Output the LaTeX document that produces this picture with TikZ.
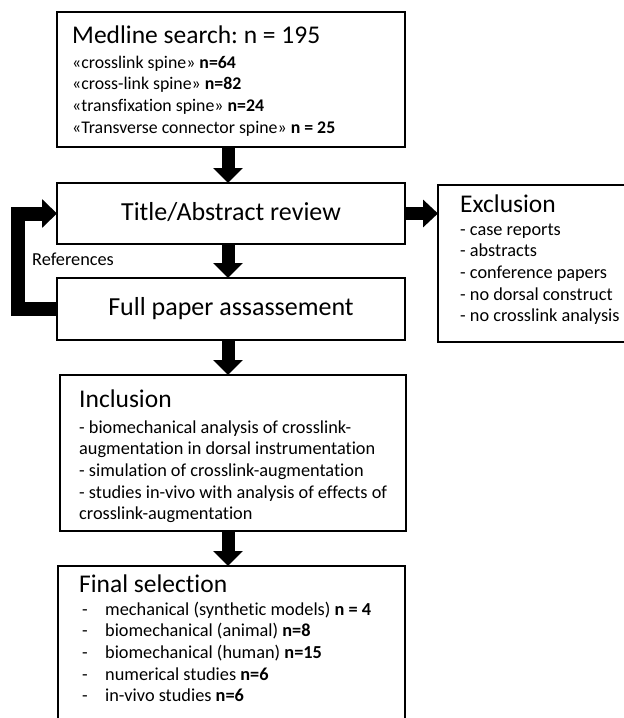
\documentclass[tikz,border=0pt]{standalone}
\usepackage{fontspec}
\setmainfont{Carlito}[Ligatures=NoCommon]
\frenchspacing
\usetikzlibrary{arrows.meta}
\tikzset{
  box/.style={draw, line width=1.3pt, inner sep=0pt, outer sep=0pt, anchor=north west},
  head/.style={anchor=base west, inner sep=0pt, font=\fontsize{25.5}{30}\selectfont},
  item/.style={anchor=base west, inner sep=0pt, font=\fontsize{18.3}{22}\selectfont},
  stage/.style={anchor=base, inner sep=0pt, font=\fontsize{26}{30}\selectfont},
  flow/.style={line width=13pt, -{Triangle[width=29pt,length=15pt]}},
}

\begin{document}
\begin{tikzpicture}[x=1pt, y=-1pt]
	\useasboundingbox (0,0) rectangle (624,718);
	% boxes
	\node[box, minimum width=348pt, minimum height=135pt] (medline) at (57,12) {};
	\node[box, minimum width=348pt, minimum height=61pt] (title) at (57,183) {};
	\node[box, minimum width=348pt, minimum height=62pt] (full) at (57,278) {};
	\node[box, minimum width=200pt, minimum height=157pt] (excl) at (438,185) {};
	\node[box, minimum width=346pt, minimum height=156pt] (incl) at (60,375) {};
	\node[box, minimum width=347pt, minimum height=170pt] (final) at (58,566) {};
	\coordinate (ax) at (228,0);

	% search
	\node[head] (medhead) at (72,43) {Medline search: n = 195};
	\foreach \t [count=\i] in {«crosslink spine» \textbf{n=64}, «cross-link spine» \textbf{n=82},
		«transfixation spine» \textbf{n=24}, «Transverse connector spine» \textbf{n = 25}}
		\node[item, font=\fontsize{17.8}{22}\selectfont] (med\i) at (72,{46.3+21.7*\i}) {\t};

	% screening
	\node[stage] (titletxt) at (231,220) {Title/Abstract review};
	\node[stage] (fulltxt) at (231,315) {Full paper assassement};
	\node[item] (refs) at (32,265) {References};

	% exclusion
	\node[head] (exhead) at (460,212) {Exclusion};
	\foreach \t [count=\i] in {- case reports, - abstracts, - conference papers,
		- no dorsal construct, - no crosslink analysis}
		\node[item] (ex\i) at (460,{213.3+21.7*\i}) {\t};

	% inclusion
	\node[head] (inhead) at (79,407) {Inclusion};
	\foreach \t [count=\i] in {- biomechanical analysis of crosslink-,
		augmentation in dorsal instrumentation, - simulation of crosslink-augmentation,
		- studies in-vivo with analysis of effects of, crosslink-augmentation}
		\node[item] (in\i) at (79,{411.3+21.7*\i}) {\t};

	% final selection
	\node[head] (finhead) at (79,592) {Final selection};
	\foreach \t [count=\i] in {mechanical (synthetic models) \textbf{n = 4},
		biomechanical (animal) \textbf{n=8}, biomechanical (human) \textbf{n=15},
		numerical studies \textbf{n=6}, in-vivo studies \textbf{n=6}}
		\node[item] (fin\i) at (82,{593.3+21.7*\i}) {\makebox[23pt][l]{-}\t};

	% arrows
	\draw[flow] (ax |- medline.south) -- (ax |- title.north);
	\draw[flow] (ax |- title.south) -- (ax |- full.north);
	\draw[flow] (ax |- full.south) -- (ax |- incl.north);
	\draw[flow] (ax |- incl.south) -- (ax |- final.north);
	\draw[flow, -{Triangle[width=27pt,length=15pt]}] (title.east) -- (title.east -| excl.west);
	\draw[flow, line width=14pt, line join=miter, -{Triangle[width=28pt,length=15pt]}]
		(full.west) -- ++(-39,0) |- (title.west);
\end{tikzpicture}
\end{document}
